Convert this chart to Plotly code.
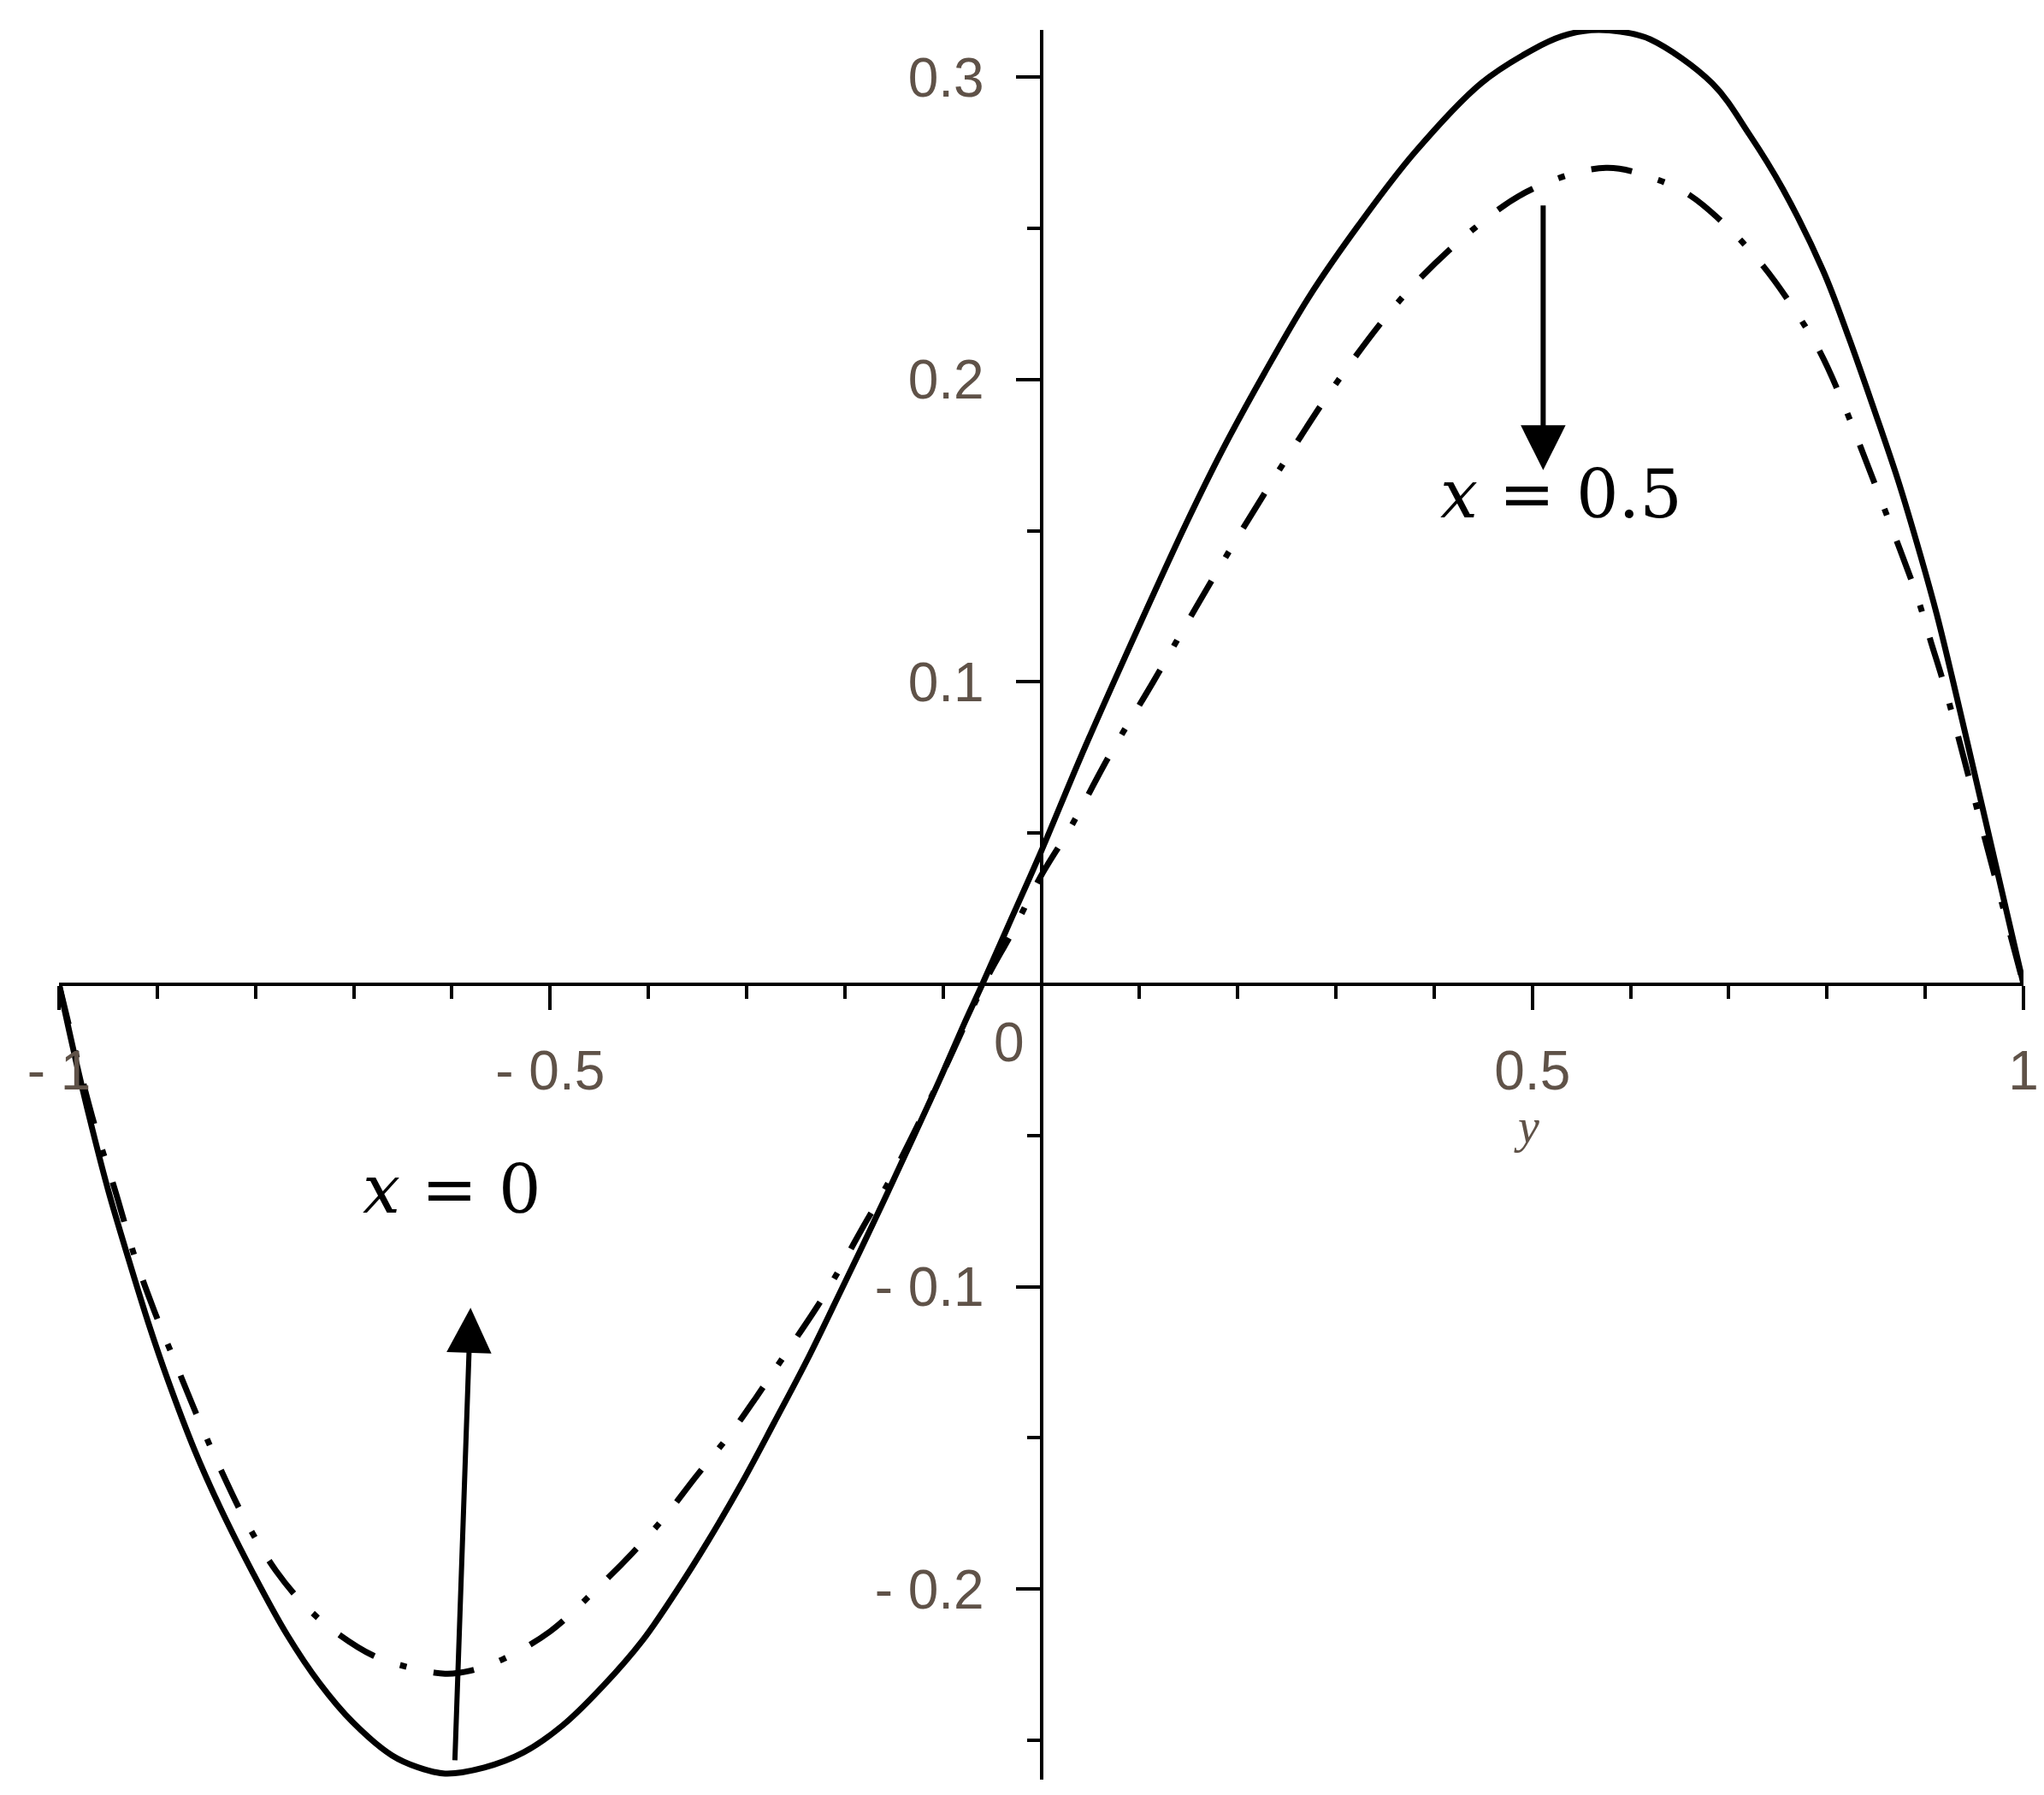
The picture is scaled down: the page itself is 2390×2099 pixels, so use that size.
import plotly.graph_objects as go

# solid curve, x = 0
y_solid = [-1.0, -0.983, -0.966, -0.950, -0.930, -0.909, -0.889, -0.862, -0.836, -0.802,
           -0.768, -0.735, -0.701, -0.661, -0.634, -0.607, -0.567, -0.527, -0.487, -0.446,
           -0.406, -0.372, -0.339, -0.305, -0.272, -0.238, -0.205, -0.171, -0.138, -0.104,
           -0.077, -0.060, -0.030, 0.0, 0.040, 0.085, 0.147, 0.185, 0.227, 0.272,
           0.323, 0.380, 0.448, 0.500, 0.530, 0.560, 0.590, 0.620, 0.683, 0.721,
           0.755, 0.796, 0.822, 0.848, 0.872, 0.895, 0.912, 0.927, 0.950, 0.970,
           1.0]
v_solid = [0.0, -0.025, -0.048, -0.068, -0.090, -0.112, -0.131, -0.154, -0.173, -0.195,
           -0.215, -0.231, -0.244, -0.255, -0.259, -0.261, -0.259, -0.254, -0.245, -0.232,
           -0.217, -0.201, -0.184, -0.165, -0.145, -0.124, -0.102, -0.079, -0.056, -0.032,
           -0.012, 0.0, 0.022, 0.044, 0.075, 0.108, 0.152, 0.177, 0.202, 0.227,
           0.251, 0.275, 0.298, 0.309, 0.3135, 0.3155, 0.315, 0.3125, 0.298, 0.281,
           0.263, 0.236, 0.214, 0.190, 0.167, 0.142, 0.122, 0.102, 0.070, 0.042,
           0.0]

# dash-dot curve, x = 0.5
y_dash = [-1.0, -0.966, -0.943, -0.923, -0.903, -0.883, -0.859, -0.836, -0.809, -0.779,
          -0.748, -0.715, -0.680, -0.654, -0.607, -0.581, -0.547, -0.500, -0.456, -0.416,
          -0.383, -0.352, -0.315, -0.289, -0.262, -0.225, -0.205, -0.181, -0.158, -0.134,
          -0.097, -0.057, -0.030, 0.0, 0.030, 0.070, 0.114, 0.160, 0.204, 0.252,
          0.303, 0.370, 0.441, 0.500, 0.575, 0.628, 0.660, 0.700, 0.735, 0.767,
          0.793, 0.816, 0.835, 0.854, 0.874, 0.892, 0.906, 0.921, 0.960, 1.0]
v_dash = [0.0, -0.044, -0.068, -0.090, -0.108, -0.124, -0.143, -0.160, -0.178, -0.194,
          -0.206, -0.215, -0.222, -0.225, -0.228, -0.227, -0.223, -0.214, -0.201, -0.188,
          -0.176, -0.163, -0.148, -0.136, -0.123, -0.105, -0.094, -0.080, -0.067, -0.052,
          -0.027, 0.001, 0.017, 0.036, 0.052, 0.076, 0.100, 0.126, 0.150, 0.175,
          0.200, 0.228, 0.250, 0.263, 0.270, 0.266, 0.261, 0.250, 0.2375, 0.223,
          0.209, 0.1925, 0.177, 0.161, 0.144, 0.128, 0.113, 0.097, 0.049, 0.0]

x_ticks = [-1, -0.5, 0.5, 1]
x_ticktext = ["- 1", "- 0.5", "0.5", "1"]
v_ticks = [-0.2, -0.1, 0.1, 0.2, 0.3]
v_ticktext = ["- 0.2", "- 0.1", "0.1", "0.2", "0.3"]

x_range = [-1, 1]
v_range = [-0.263, 0.3156]

label_col = "#5f5248"
tick_font = dict(family="Liberation Sans", size=64, color=label_col)

fig = go.Figure()
fig.add_trace(go.Scatter(x=y_solid, y=v_solid, mode="lines",
                         line=dict(color="black", width=7, shape="spline", smoothing=1.0)))
fig.add_trace(go.Scatter(x=y_dash, y=v_dash, mode="lines",
                         line=dict(color="black", width=7, shape="spline", smoothing=1.0,
                                   dash="48px,32px,8px,32px")))

# arrows
fig.add_annotation(x=0.511, y=0.170, ax=0.511, ay=0.258, axref="x", ayref="y",
                   text="", showarrow=True, arrowhead=2, arrowsize=1.75, arrowwidth=6,
                   arrowcolor="black")
fig.add_annotation(x=-0.581, y=-0.107, ax=-0.597, ay=-0.257, axref="x", ayref="y",
                   text="", showarrow=True, arrowhead=2, arrowsize=1.75, arrowwidth=6,
                   arrowcolor="black")

label_font = dict(family="DejaVu Serif", size=78, color="black")
fig.add_annotation(x=0.529, y=0.162, text="<i>x</i> = 0.5", showarrow=False,
                   font=label_font, xanchor="center", yanchor="middle")
fig.add_annotation(x=-0.600, y=-0.068, text="<i>x</i> = 0", showarrow=False,
                   font=label_font, xanchor="center", yanchor="middle")

# axis title and origin label
fig.add_annotation(x=0.494, y=-0.047, text="<i>y</i>", showarrow=False,
                   font=dict(family="Liberation Serif", size=56, color=label_col),
                   xanchor="center", yanchor="middle")
fig.add_annotation(x=0, y=0, text="0", showarrow=False, font=tick_font,
                   xanchor="right", yanchor="top", xshift=-18, yshift=-30)

zero_frac = (0 - v_range[0]) / (v_range[1] - v_range[0])

fig.update_layout(
    width=2390, height=2099,
    margin=dict(l=61, r=32, t=27, b=26),
    paper_bgcolor="white", plot_bgcolor="white",
    showlegend=False,
    xaxis=dict(range=x_range, anchor="free", position=zero_frac, side="bottom",
               showgrid=False, zeroline=False, showline=True, linecolor="black",
               linewidth=4, ticks="outside", ticklen=28, tickwidth=4, tickcolor="black",
               tickmode="array", tickvals=x_ticks, ticktext=x_ticktext,
               tickfont=tick_font, ticklabelstandoff=16, automargin=False,
               minor=dict(dtick=0.1, tick0=0, ticks="outside", ticklen=15,
                          tickwidth=4, tickcolor="black")),
    yaxis=dict(range=v_range, anchor="free", position=0.5, side="left",
               showgrid=False, zeroline=False, showline=True, linecolor="black",
               linewidth=4, ticks="outside", ticklen=28, tickwidth=4, tickcolor="black",
               tickmode="array", tickvals=v_ticks, ticktext=v_ticktext,
               tickfont=tick_font, ticklabelstandoff=24, automargin=False,
               minor=dict(dtick=0.05, tick0=0, ticks="outside", ticklen=15,
                          tickwidth=4, tickcolor="black")),
)

fig.write_html("out.html")
